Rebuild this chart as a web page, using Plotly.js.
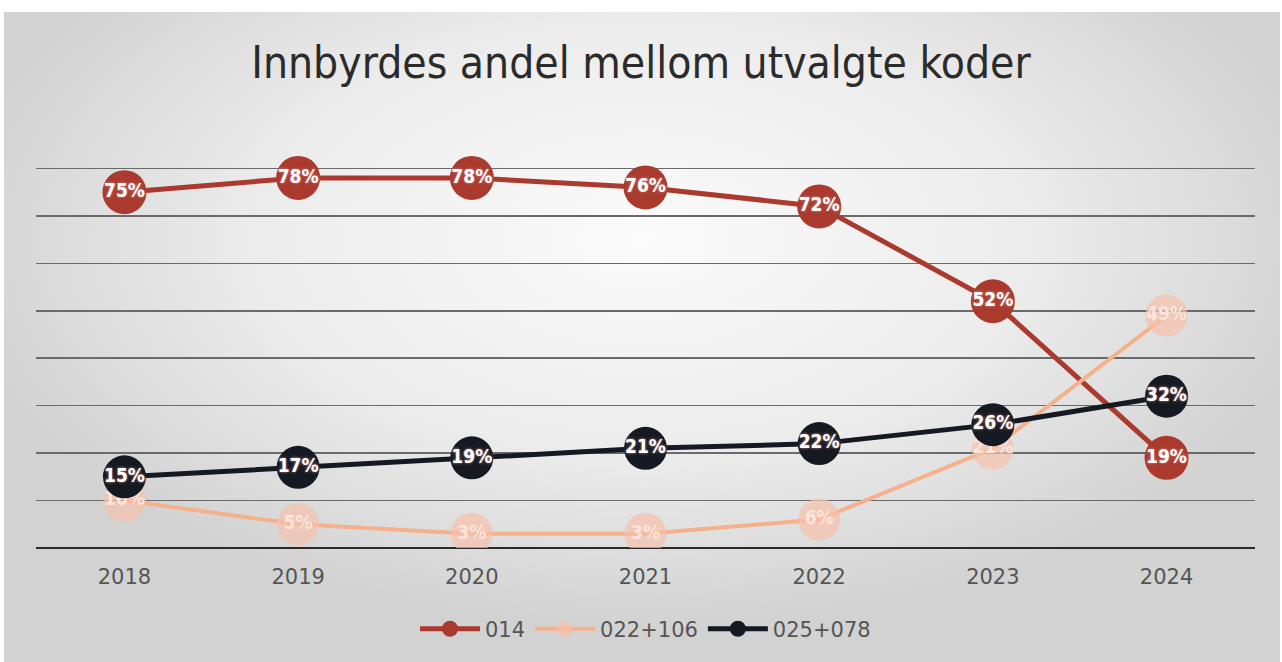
<!DOCTYPE html>
<html>
<head>
<meta charset="utf-8">
<script src="https://cdn.plot.ly/plotly-3.0.1.min.js"></script>
<style>
  html, body { margin: 0; padding: 0; width: 1282px; height: 662px; overflow: hidden; background: #ffffff; }
  #bg { position: absolute; left: 4px; top: 12px; width: 1276px; height: 650px;
        background: radial-gradient(ellipse 55% 60% at 50% 35%, #fbfbfb 0%, #ececec 55%, #d2d2d2 100%); }
  #chart { position: absolute; left: 0; top: 0; width: 1282px; height: 662px; }
</style>
</head>
<body>
<div id="bg"></div>
<div id="chart"></div>
<script>
const years = ['2018', '2019', '2020', '2021', '2022', '2023', '2024'];
const s014 = [75, 78, 78, 76, 72, 52, 19];
const s022_106 = [10, 5, 3, 3, 6, 21, 49];
const s025_078 = [15, 17, 19, 21, 22, 26, 32];
const seriesNames = ['014', '022+106', '025+078'];

const labelFont = { family: 'DejaVu Sans Condensed, DejaVu Sans, sans-serif', size: 19, color: '#ffffff', weight: 'bold', shadow: '0px 0px 3px #d08a8a' };

const traces = [
  {
    x: years, y: s014, name: seriesNames[0], type: 'scatter', mode: 'lines+markers+text',
    line: { color: '#aa3a2d', width: 5 },
    marker: { color: '#aa3a2d', size: 44 },
    texttemplate: '%{y}%', textposition: 'middle center', textfont: labelFont,
    hoverinfo: 'skip'
  },
  {
    x: years, y: s022_106, name: seriesNames[1], type: 'scatter', mode: 'lines+markers+text',
    line: { color: '#f5b08c', width: 4 },
    marker: { color: 'rgba(246,192,170,0.7)', size: 42 },
    texttemplate: '%{y}%', textposition: 'middle center',
    textfont: { family: 'DejaVu Sans Condensed, DejaVu Sans, sans-serif', size: 19, color: '#fbe4dc', weight: 'bold' },
    hoverinfo: 'skip'
  },
  {
    x: years, y: s025_078, name: seriesNames[2], type: 'scatter', mode: 'lines+markers+text',
    line: { color: '#151a22', width: 5 },
    marker: { color: '#151a22', size: 43 },
    texttemplate: '%{y}%', textposition: 'middle center', textfont: labelFont,
    hoverinfo: 'skip'
  }
];

const layout = {
  width: 1282, height: 662,
  paper_bgcolor: 'rgba(0,0,0,0)', plot_bgcolor: 'rgba(0,0,0,0)',
  margin: { l: 36, r: 27, t: 121, b: 111 },
  title: {
    text: 'Innbyrdes andel mellom utvalgte koder',
    font: { family: 'DejaVu Sans Condensed, sans-serif', size: 44, color: '#2b2b2b' },
    x: 0.5, xanchor: 'center', y: 0.905, yanchor: 'middle'
  },
  xaxis: {
    type: 'category', showgrid: false, zeroline: false, showline: false,
    ticks: '', tickfont: { family: 'DejaVu Sans, sans-serif', size: 21, color: '#555555' },
    ticklabelstandoff: 14
  },
  yaxis: {
    range: [0, 90], dtick: 10, showticklabels: false, ticks: '',
    showgrid: true, gridcolor: '#6a6a6a', gridwidth: 1.5,
    zeroline: true, zerolinecolor: '#2a2a2a', zerolinewidth: 2.5, showline: false
  },
  showlegend: true,
  legend: {
    orientation: 'h', x: 0.5, xanchor: 'center', y: -0.19, yanchor: 'middle',
    font: { family: 'DejaVu Sans, sans-serif', size: 21, color: '#555555' },
    bgcolor: 'rgba(0,0,0,0)', itemwidth: 60, traceorder: 'normal'
  }
};

Plotly.newPlot('chart', traces, layout, { displayModeBar: false, staticPlot: true });
</script>
</body>
</html>
